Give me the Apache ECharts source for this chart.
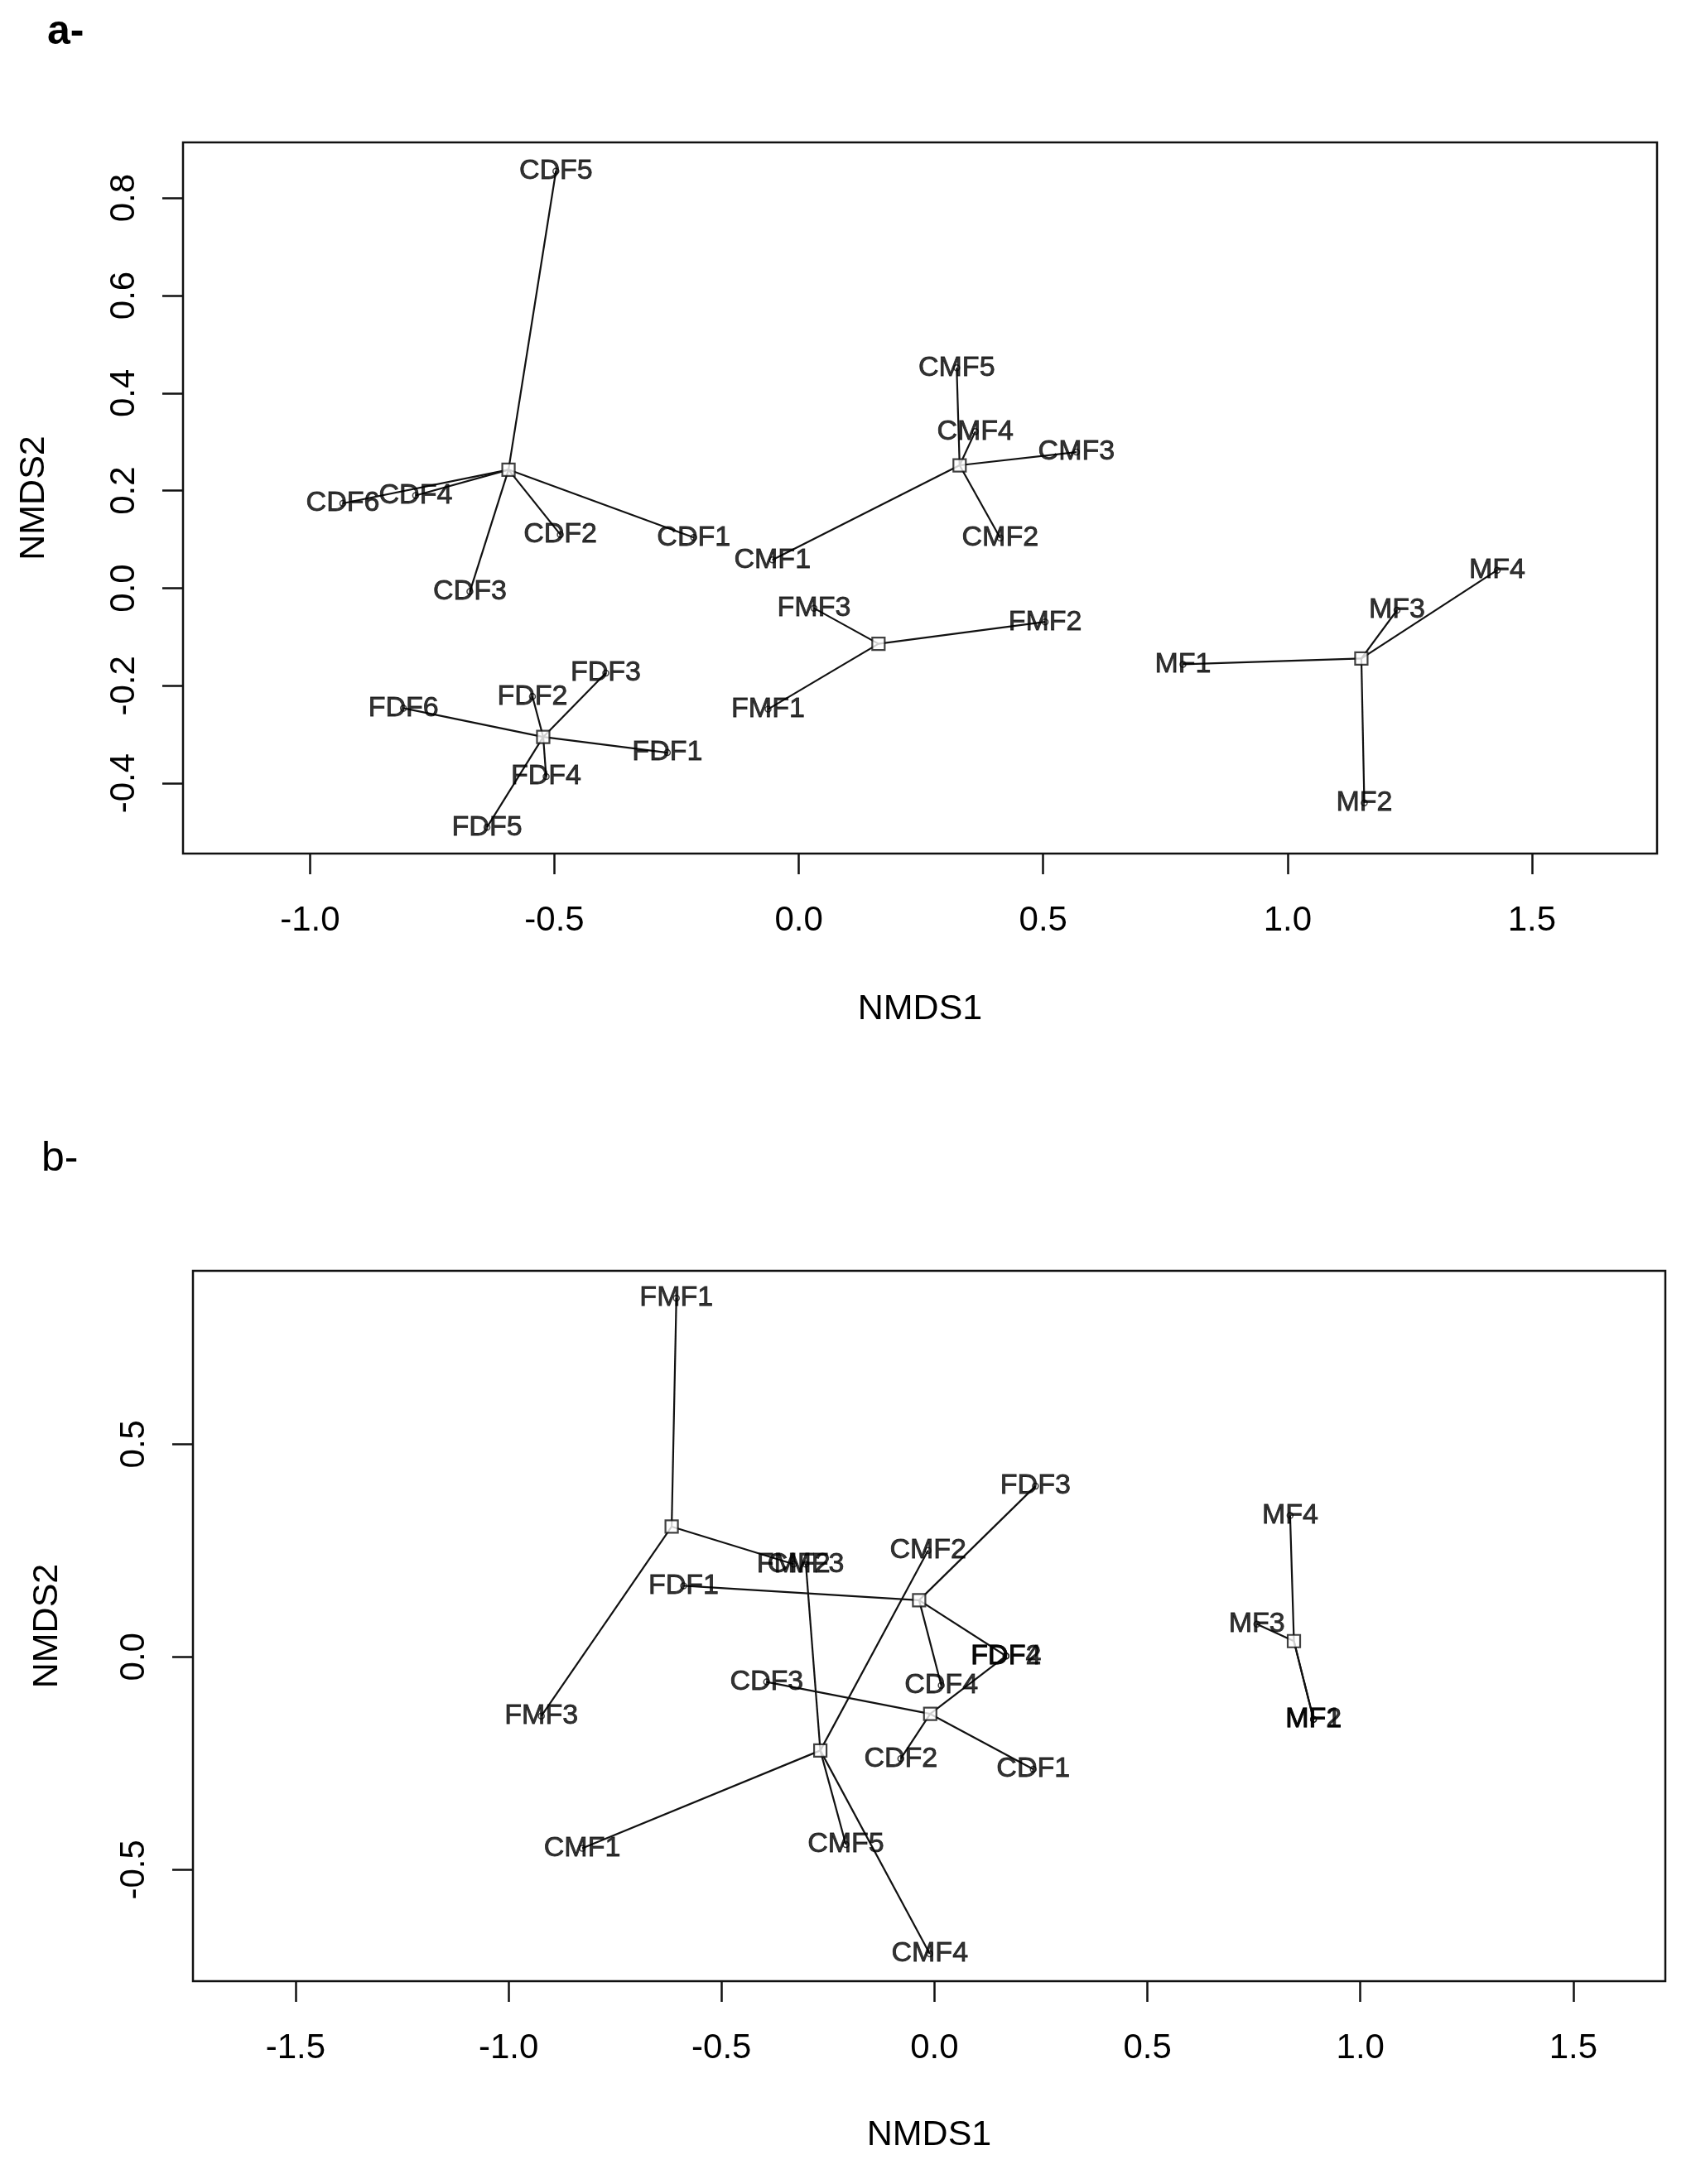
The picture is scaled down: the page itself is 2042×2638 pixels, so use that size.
<!DOCTYPE html>
<html>
<head>
<meta charset="utf-8">
<script src="https://cdn.jsdelivr.net/npm/echarts@6/dist/echarts.min.js"></script>
<style>
html, body { margin: 0; padding: 0; background: #fff; }
#main { width: 2042px; height: 2638px; }
</style>
</head>
<body>
<div id="main"></div>
<script>
var FONT = '"Liberation Sans", Arial, sans-serif';

// ---- panel a ----
var centNameA = ['CDF', 'CMF', 'FMF', 'FDF', 'MF'];
var centXA = [-0.594, 0.329, 0.163, -0.523, 1.151];
var centYA = [0.243, 0.252, -0.114, -0.305, -0.144];

var siteA = ['CDF1', 'CDF2', 'CDF3', 'CDF4', 'CDF5', 'CDF6',
             'CMF1', 'CMF2', 'CMF3', 'CMF4', 'CMF5',
             'FMF1', 'FMF2', 'FMF3',
             'FDF1', 'FDF2', 'FDF3', 'FDF4', 'FDF5', 'FDF6',
             'MF1', 'MF2', 'MF3', 'MF4'];
var xA = [-0.215, -0.488, -0.673, -0.784, -0.497, -0.933,
          -0.054, 0.412, 0.568, 0.361, 0.323,
          -0.063, 0.504, 0.031,
          -0.269, -0.545, -0.395, -0.517, -0.638, -0.809,
          0.786, 1.157, 1.224, 1.429];
var yA = [0.104, 0.110, -0.007, 0.190, 0.855, 0.174,
          0.058, 0.103, 0.279, 0.321, 0.452,
          -0.248, -0.069, -0.041,
          -0.337, -0.222, -0.174, -0.386, -0.490, -0.246,
          -0.156, -0.440, -0.045, 0.037];
// index into centNameA
var grpA = [0, 0, 0, 0, 0, 0,
            1, 1, 1, 1, 1,
            2, 2, 2,
            3, 3, 3, 3, 3, 3,
            4, 4, 4, 4];

var ticksXA = [-1.0, -0.5, 0.0, 0.5, 1.0, 1.5];
var ticksYA = [-0.4, -0.2, 0.0, 0.2, 0.4, 0.6, 0.8];

// ---- panel b ----
var centNameB = ['FMF', 'CMF', 'FDF', 'CDF', 'MF'];
var centXB = [-0.617, -0.268, -0.036, -0.010, 0.844];
var centYB = [0.306, -0.220, 0.133, -0.134, 0.037];

var siteB = ['FMF1', 'FMF2', 'FMF3',
             'CMF1', 'CMF2', 'CMF3', 'CMF4', 'CMF5',
             'FDF1', 'FDF2', 'FDF3', 'CDF4',
             'CDF1', 'CDF2', 'CDF3', 'FDF4',
             'MF1', 'MF2', 'MF3', 'MF4'];
var xB = [-0.606, -0.331, -0.923,
          -0.827, -0.015, -0.302, -0.011, -0.208,
          -0.589, 0.168, 0.237, 0.016,
          0.232, -0.079, -0.394, 0.168,
          0.890, 0.890, 0.757, 0.835];
var yB = [0.843, 0.218, -0.139,
          -0.450, 0.250, 0.218, -0.698, -0.441,
          0.167, 0.002, 0.401, -0.067,
          -0.264, -0.239, -0.059, 0.002,
          -0.147, -0.147, 0.077, 0.332];
var grpB = [0, 0, 0,
            1, 1, 1, 1, 1,
            2, 2, 2, 2,
            3, 3, 3, 3,
            4, 4, 4, 4];

var ticksXB = [-1.5, -1.0, -0.5, 0.0, 0.5, 1.0, 1.5];
var ticksYB = [-0.5, 0.0, 0.5];

function spokes(cx, cy, xs, ys, g) {
    var out = [];
    for (var i = 0; i < xs.length; i++) {
        out.push({ coords: [[cx[g[i]], cy[g[i]]], [xs[i], ys[i]]] });
    }
    return out;
}
function pts(names, xs, ys) {
    return names.map(function (n, i) { return { name: n, value: [xs[i], ys[i]] }; });
}

var ink = '#111';

function xAxisOf(gi, min, max, ticks, gap) {
    return {
        type: 'value', gridIndex: gi, min: min, max: max,
        name: 'NMDS1', nameLocation: 'middle', nameGap: gap,
        nameTextStyle: { fontFamily: FONT, fontSize: 43, color: '#000' },
        axisLine: { show: false, onZero: false },
        axisTick: { show: true, length: 25, customValues: ticks, lineStyle: { color: ink, width: 2.5 } },
        axisLabel: {
            customValues: ticks, margin: 60, fontFamily: FONT, fontSize: 42, color: '#000',
            formatter: function (v) { return v.toFixed(1); }
        },
        splitLine: { show: false }
    };
}
function yAxisOf(gi, min, max, ticks, gap) {
    return {
        type: 'value', gridIndex: gi, min: min, max: max,
        name: 'NMDS2', nameLocation: 'middle', nameGap: gap,
        nameTextStyle: { fontFamily: FONT, fontSize: 43, color: '#000' },
        axisLine: { show: false, onZero: false },
        axisTick: { show: true, length: 25, customValues: ticks, lineStyle: { color: ink, width: 2.5 } },
        axisLabel: {
            customValues: ticks, margin: 50, rotate: 90, fontFamily: FONT, fontSize: 42, color: '#000',
            formatter: function (v) { return v.toFixed(1); }
        },
        splitLine: { show: false }
    };
}

function panelSeries(idx, cx, cy, names, xs, ys, g) {
    return [
        {
            type: 'lines', coordinateSystem: 'cartesian2d', xAxisIndex: idx, yAxisIndex: idx,
            silent: true, z: 2,
            lineStyle: { color: ink, width: 2.2, opacity: 1 },
            data: spokes(cx, cy, xs, ys, g)
        },
        {
            type: 'scatter', xAxisIndex: idx, yAxisIndex: idx, z: 3,
            symbol: 'rect', symbolSize: 15,
            itemStyle: { color: '#fff', borderColor: ink, borderWidth: 2.2 },
            data: cx.map(function (v, i) { return [v, cy[i]]; })
        },
        {
            type: 'scatter', xAxisIndex: idx, yAxisIndex: idx, z: 4,
            symbol: 'circle', symbolSize: 7,
            itemStyle: { color: 'rgba(0,0,0,0)', borderColor: ink, borderWidth: 1.5 },
            label: {
                show: true, position: 'inside', formatter: '{b}',
                fontFamily: FONT, fontSize: 34, color: '#000',
                textBorderColor: '#000', textBorderWidth: 0.8
            },
            data: pts(names, xs, ys)
        }
    ];
}

var chart = echarts.init(document.getElementById('main'));
var option = {
    backgroundColor: '#fff',
    animation: false,
    grid: [
        { left: 221, top: 172, right: 41, bottom: 1607, show: true, borderColor: ink, borderWidth: 2.5, backgroundColor: 'transparent' },
        { left: 233, top: 1535, right: 31, bottom: 245, show: true, borderColor: ink, borderWidth: 2.5, backgroundColor: 'transparent' }
    ],
    xAxis: [
        xAxisOf(0, -1.260, 1.756, ticksXA, 167),
        xAxisOf(1, -1.741, 1.716, ticksXB, 165)
    ],
    yAxis: [
        yAxisOf(0, -0.544, 0.914, ticksYA, 158),
        yAxisOf(1, -0.762, 0.907, ticksYB, 154)
    ],
    graphic: [
        { type: 'text', left: 57, top: 14, style: { text: 'a-', font: 'bold 50px ' + FONT, fill: '#000' } },
        { type: 'text', left: 50, top: 1375, style: { text: 'b-', font: '50px ' + FONT, fill: '#000' } }
    ],
    series: [].concat(
        panelSeries(0, centXA, centYA, siteA, xA, yA, grpA),
        panelSeries(1, centXB, centYB, siteB, xB, yB, grpB)
    )
};
chart.setOption(option);
</script>
</body>
</html>
